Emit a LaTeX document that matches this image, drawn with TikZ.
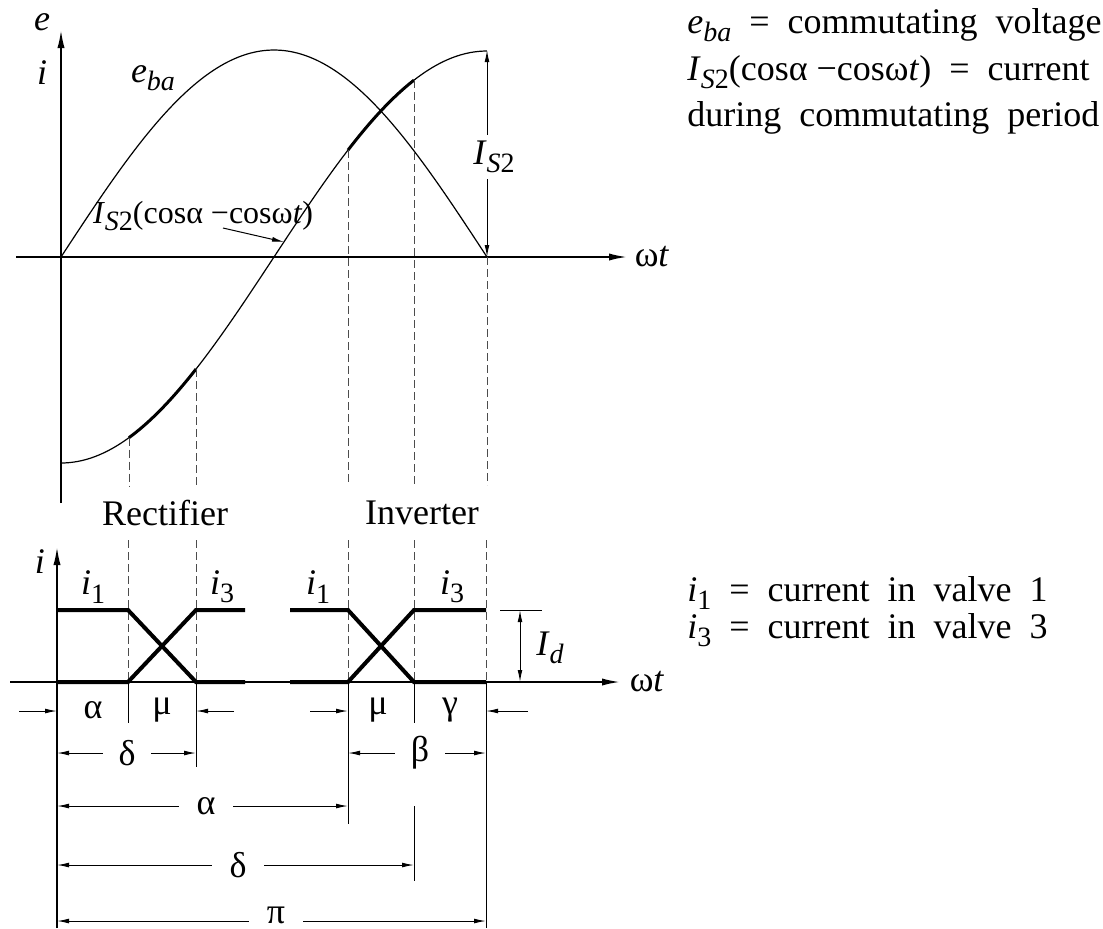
\documentclass[tikz,border=0pt]{standalone}
\usepackage{fontspec}
\setmainfont{Liberation Serif}
\usetikzlibrary{arrows.meta}
\newcommand{\itsub}[2]{\textit{#1}\raisebox{-0.5ex}{\fontsize{14}{14}\selectfont\textit{#2}}}
\newcommand{\rmsub}[2]{\textit{#1}\raisebox{-0.5ex}{\fontsize{14}{14}\selectfont #2}}
\newcommand{\ws}{\hspace{0.5em}}
\begin{document}
\begin{tikzpicture}[x=0.5pt,y=-0.5pt,
  font=\fontsize{18}{22}\selectfont,
  axisline/.style={line width=0.9pt,-{Latex[length=9pt,width=3.6pt]}},
  thinline/.style={line width=0.6pt},
  thickcur/.style={line width=1.5pt},
  stepcur/.style={line width=2pt},
  dashln/.style={line width=0.5pt,black!70,dash pattern=on 4pt off 2pt},
  ext/.style={line width=0.5pt},
  dimone/.style={line width=0.5pt,-{Latex[length=6pt,width=2.4pt]}},
  dimtwo/.style={line width=0.5pt,{Latex[length=6pt,width=2.4pt]}-{Latex[length=6pt,width=2.4pt]}},
  lbl/.style={inner sep=1pt},
  wlbl/.style={inner ysep=2pt,inner xsep=8pt,fill=white}]
\useasboundingbox (0,0) rectangle (1103,928);

% ---------- upper plot ----------
\coordinate (ybot) at (61,503);
\coordinate (ytop) at (61,30);
\coordinate (xl) at (16,257);
\coordinate (xr) at (627,257);
\draw[axisline] (ybot) -- (ytop);
\draw[axisline] (xl) -- (xr);
\node[lbl] (elab) at (42,22) {\textit{e}};
\node[lbl] (ilab) at (42,73) {\textit{i}};
\node[lbl] (wt1) at (652,257) {ω\textit{t}};

% e_ba
\draw[thinline] plot[domain=0:180,samples=100,smooth] ({61+\x/180*426},{257-207*sin(\x)});
% current
\draw[thinline] plot[domain=0:180,samples=100,smooth] ({61+\x/180*426},{257+206*cos(\x)});
\draw[thickcur] plot[domain=28.73:57.04,samples=30,smooth] ({61+\x/180*426},{257+206*cos(\x)});
\draw[thickcur] plot[domain=121.27:149.15,samples=30,smooth] ({61+\x/180*426},{257+206*cos(\x)});

\node[lbl] (eba) at (153,78) {\itsub{e}{ba}};
\node[lbl,font=\fontsize{16}{19}\selectfont] (ilbl) at (203,216) {\rmsub{I}{\textit{S}2}(cosα −cosω\textit{t})};
\coordinate (pa1) at (223,228);
\coordinate (pa2) at (284,242);
\draw[dimone] (pa1) -- (pa2);

% I_S2 amplitude
\coordinate (Itop) at (487,50);
\coordinate (Ibot) at (487,257);
\draw[dimtwo] (Ibot) -- (Itop);
\node[lbl,fill=white,inner ysep=3pt] (IS2) at (494,157) {\rmsub{I}{\textit{S}2}};

% curve points
\coordinate (ca) at (129,{257+206*cos(28.73)});
\coordinate (cb) at (196,{257+206*cos(57.04)});
\coordinate (cc) at (348,{257+206*cos(121.27)});
\coordinate (cd) at (414,{257+206*cos(149.15)});
\coordinate (ce) at (487,257);
\coordinate (da) at (129,487);
\coordinate (db) at (196,487);
\coordinate (dc) at (348,484);
\coordinate (dd) at (414,485);
\coordinate (de) at (487,485);
\draw[dashln] (ca) -- (da);
\draw[dashln] (cb) -- (db);
\draw[dashln] (cc) -- (dc);
\draw[dashln] (cd) -- (dd);
\draw[dashln] (ce) -- (de);

\node[lbl] (rect) at (165,513) {Rectifier};
\node[lbl] (inv) at (422,513) {Inverter};

% ---------- lower plot ----------
\coordinate (lybot) at (57,928);
\coordinate (lytop) at (57,547);
\coordinate (lxl) at (10,682);
\coordinate (lxr) at (620,682);
\draw[axisline] (lybot) -- (lytop);
\draw[axisline] (lxl) -- (lxr);
\node[lbl] (ilab2) at (40,562) {\textit{i}};
\node[lbl] (wt2) at (647,682) {ω\textit{t}};

% lower dashed continuations
\coordinate (ua) at (128,540); \coordinate (va) at (128,682);
\coordinate (ub) at (196,540); \coordinate (vb) at (196,682);
\coordinate (uc) at (348,540); \coordinate (vc) at (348,682);
\coordinate (ud) at (414,540); \coordinate (vd) at (414,682);
\coordinate (ue) at (486,540); \coordinate (ve) at (486,682);
\draw[dashln] (ua) -- (va);
\draw[dashln] (ub) -- (vb);
\draw[dashln] (uc) -- (vc);
\draw[dashln] (ud) -- (vd);
\draw[dashln] (ue) -- (ve);

% valve currents
\draw[stepcur,line join=miter] (57,610) -- (128,610) -- (196,682) -- (245,682);
\draw[stepcur,line join=miter] (57,682) -- (128,682) -- (196,610) -- (245,610);
\draw[stepcur,line join=miter] (290,610) -- (348,610) -- (414,682) -- (486,682);
\draw[stepcur,line join=miter] (290,682) -- (348,682) -- (414,610) -- (486,610);
\node[lbl] (ri1) at (93,587) {\rmsub{i}{1}};
\node[lbl] (ri3) at (222,587) {\rmsub{i}{3}};
\node[lbl] (ii1) at (318,587) {\rmsub{i}{1}};
\node[lbl] (ii3) at (452,587) {\rmsub{i}{3}};

% I_d
\coordinate (idl) at (500,610);
\coordinate (idr) at (542,610);
\coordinate (idt) at (520,610);
\coordinate (idb) at (520,682);
\draw[ext] (idl) -- (idr);
\draw[dimtwo] (idb) -- (idt);
\node[lbl] (Id) at (550,648) {\itsub{I}{d}};

% extension lines
\coordinate (ta) at (128,723);
\coordinate (tb) at (196,767);
\coordinate (tc) at (348,824);
\coordinate (td) at (414,723);
\coordinate (td2) at (414,806);
\coordinate (td3) at (414,881);
\coordinate (te) at (486,928);
\draw[ext] (va) -- (ta);
\draw[ext] (vb) -- (tb);
\draw[ext] (vc) -- (tc);
\draw[ext] (vd) -- (td);
\draw[ext] (td2) -- (td3);
\draw[ext] (ve) -- (te);

% row 1: alpha mu / mu gamma
\coordinate (r1a) at (19,711); \coordinate (r1b) at (57,711);
\coordinate (r1c) at (234,711); \coordinate (r1d) at (196,711);
\draw[dimone] (r1a) -- (r1b);
\draw[dimone] (r1c) -- (r1d);
\node[lbl] (al1) at (93,710) {α};
\node[lbl] (mu1) at (162,710) {μ};
\coordinate (r1e) at (310,711); \coordinate (r1f) at (348,711);
\coordinate (r1g) at (528,711); \coordinate (r1h) at (486,711);
\draw[dimone] (r1e) -- (r1f);
\draw[dimone] (r1g) -- (r1h);
\node[lbl] (mu2) at (378,710) {μ};
\node[lbl] (ga) at (450,710) {γ};

% row 2: delta / beta
\coordinate (r2a) at (57,753); \coordinate (r2b) at (196,753);
\draw[dimtwo] (r2a) -- (r2b);
\node[wlbl] (de1) at (127,753) {δ};
\coordinate (r2c) at (348,753); \coordinate (r2d) at (486,753);
\draw[dimtwo] (r2c) -- (r2d);
\node[wlbl] (be) at (420,753) {β};

% row 3: alpha
\coordinate (r3a) at (57,806); \coordinate (r3b) at (348,806);
\draw[dimtwo] (r3a) -- (r3b);
\node[wlbl,inner xsep=9pt] (al2) at (206,806) {α};

% row 4: delta
\coordinate (r4a) at (57,865); \coordinate (r4b) at (414,865);
\draw[dimtwo] (r4a) -- (r4b);
\node[wlbl,inner xsep=9pt] (de2) at (238,865) {δ};

% row 5: pi
\coordinate (r5a) at (57,921); \coordinate (r5b) at (486,921);
\draw[dimtwo] (r5a) -- (r5b);
\node[wlbl,inner xsep=9pt,inner ysep=0pt] (pi) at (276,915) {π};

% ---------- legends ----------
\node[lbl,anchor=west] (lg1) at (685,25) {\itsub{e}{ba}\ws=\ws commutating\ws voltage};
\node[lbl,anchor=west] (lg2) at (685,72) {\rmsub{I}{\textit{S}2}(cosα −cosω\textit{t})\ws=\ws current};
\node[lbl,anchor=west] (lg3) at (685,118) {during\ws commutating\ws period};
\node[lbl,anchor=west] (lg4) at (685,593) {\rmsub{i}{1}\ws=\ws current\ws in\ws valve\ws 1};
\node[lbl,anchor=west] (lg5) at (685,630) {\rmsub{i}{3}\ws=\ws current\ws in\ws valve\ws 3};
\end{tikzpicture}
\end{document}
